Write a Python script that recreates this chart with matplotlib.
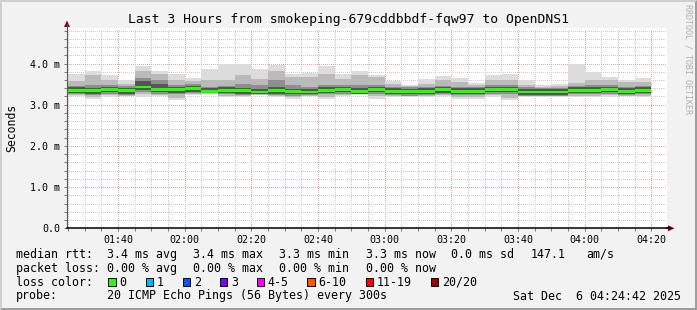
import matplotlib
matplotlib.use("Agg")
import matplotlib.pyplot as plt
from matplotlib.patches import Rectangle, Polygon
from matplotlib.lines import Line2D
from matplotlib.ticker import MultipleLocator, FixedLocator

# ---------------- data (5-minute steps, bar end time) ----------------
bar_end = ["01:30", "01:35", "01:40", "01:45", "01:50", "01:55",
           "02:00", "02:05", "02:10", "02:15", "02:20", "02:25",
           "02:30", "02:35", "02:40", "02:45", "02:50", "02:55",
           "03:00", "03:05", "03:10", "03:15", "03:20", "03:25",
           "03:30", "03:35", "03:40", "03:45", "03:50", "03:55",
           "04:00", "04:05", "04:10", "04:15", "04:20"]

# round-trip times in ms
rtt_max = [3.75, 3.82, 3.71, 3.59, 3.93, 3.81, 3.74, 3.66, 3.86, 4.00, 3.99, 3.86,
           3.96, 3.75, 3.77, 3.94, 3.74, 3.83, 3.72, 3.58, 3.47, 3.62, 3.69, 3.66,
           3.52, 3.71, 3.74, 3.59, 3.47, 3.50, 4.00, 3.80, 3.67, 3.61, 3.65]
rtt_p90 = [3.57, 3.71, 3.59, 3.51, 3.83, 3.75, 3.59, 3.57, 3.59, 3.59, 3.71, 3.63,
           3.83, 3.67, 3.67, 3.75, 3.63, 3.71, 3.67, 3.51, 3.45, 3.51, 3.59, 3.55,
           3.47, 3.59, 3.59, 3.47, 3.44, 3.45, 3.52, 3.59, 3.59, 3.55, 3.55]
rtt_p75 = [3.45, 3.49, 3.47, 3.45, 3.65, 3.59, 3.47, 3.50, 3.43, 3.46, 3.51, 3.47,
           3.59, 3.47, 3.43, 3.47, 3.48, 3.47, 3.47, 3.42, 3.42, 3.42, 3.46, 3.42,
           3.43, 3.48, 3.48, 3.42, 3.41, 3.41, 3.45, 3.47, 3.47, 3.43, 3.46]
rtt_p60 = [3.42, 3.41, 3.44, 3.41, 3.58, 3.50, 3.43, 3.46, 3.40, 3.42, 3.41, 3.38,
           3.42, 3.39, 3.38, 3.42, 3.44, 3.40, 3.44, 3.40, 3.39, 3.40, 3.43, 3.40,
           3.40, 3.44, 3.44, 3.38, 3.38, 3.38, 3.42, 3.42, 3.44, 3.40, 3.42]
rtt_median = [3.35, 3.34, 3.37, 3.34, 3.43, 3.37, 3.36, 3.39, 3.33, 3.35, 3.34, 3.31,
              3.34, 3.32, 3.31, 3.35, 3.37, 3.33, 3.37, 3.33, 3.32, 3.33, 3.36, 3.33,
              3.33, 3.37, 3.37, 3.31, 3.31, 3.31, 3.35, 3.35, 3.37, 3.33, 3.35]
rtt_p40 = [3.28, 3.27, 3.30, 3.27, 3.36, 3.30, 3.29, 3.32, 3.29, 3.28, 3.27, 3.25,
           3.27, 3.25, 3.25, 3.28, 3.30, 3.27, 3.30, 3.26, 3.25, 3.26, 3.29, 3.26,
           3.26, 3.30, 3.30, 3.24, 3.24, 3.24, 3.28, 3.28, 3.30, 3.26, 3.28]
rtt_p25 = [3.25, 3.24, 3.27, 3.24, 3.31, 3.27, 3.26, 3.29, 3.28, 3.25, 3.24, 3.25,
           3.24, 3.22, 3.23, 3.25, 3.27, 3.26, 3.27, 3.23, 3.22, 3.23, 3.26, 3.23,
           3.23, 3.27, 3.27, 3.22, 3.22, 3.22, 3.25, 3.25, 3.27, 3.23, 3.25]
rtt_p10 = [3.23, 3.19, 3.23, 3.22, 3.25, 3.23, 3.17, 3.26, 3.27, 3.22, 3.22, 3.24,
           3.22, 3.18, 3.22, 3.19, 3.23, 3.25, 3.20, 3.21, 3.21, 3.21, 3.23, 3.19,
           3.19, 3.23, 3.17, 3.21, 3.21, 3.21, 3.22, 3.22, 3.23, 3.22, 3.22]
rtt_min = [3.20, 3.15, 3.19, 3.20, 3.19, 3.20, 3.11, 3.23, 3.27, 3.19, 3.19, 3.23,
           3.19, 3.15, 3.21, 3.15, 3.20, 3.24, 3.15, 3.19, 3.19, 3.19, 3.21, 3.15,
           3.15, 3.19, 3.12, 3.19, 3.19, 3.19, 3.19, 3.19, 3.19, 3.20, 3.19]

x_tick_labels = ["01:40", "02:00", "02:20", "02:40", "03:00", "03:20", "03:40", "04:00", "04:20"]
y_tick_values = [0.0, 1.0, 2.0, 3.0, 4.0]
y_tick_labels = ["0.0", "1.0 m", "2.0 m", "3.0 m", "4.0 m"]

loss_labels = ["0", "1", "2", "3", "4-5", "6-10", "11-19", "20/20"]
loss_colors = ["#26ff00", "#00b8ff", "#0059ff", "#7e00ff", "#ff00ff", "#ff5500", "#ff0000", "#a10000"]

title = "Last 3 Hours from smokeping-679cddbbdf-fqw97 to OpenDNS1"
row_rtt = ["median rtt:", "3.4 ms avg", "3.4 ms max", "3.3 ms min", "3.3 ms now", "0.0 ms sd", "147.1", "am/s"]
row_loss = ["packet loss:", "0.00 % avg", "0.00 % max", "0.00 % min", "0.00 % now"]
probe_text = "20 ICMP Echo Pings (56 Bytes) every 300s"
date_text = "Sat Dec  6 04:24:42 2025"

# ---------------- layout ----------------
W, H = 697, 310
MONO = "DejaVu Sans Mono"


def fx(x):
    return x / W


def fy(y):
    return 1 - y / H


def tmin(s):
    h, m = s.split(":")
    return int(h) * 60 + int(m)


fig = plt.figure(figsize=(W / 100, H / 100), dpi=100, facecolor="#f2f2f2")

# frame shading
fig.patches.append(Polygon([(fx(0), fy(0)), (fx(W), fy(0)), (fx(W - 2), fy(2)), (fx(2), fy(2)),
                            (fx(2), fy(H - 2)), (fx(0), fy(H))], closed=True,
                           transform=fig.transFigure, facecolor="#cfcfcf", edgecolor="none"))
fig.patches.append(Polygon([(fx(W), fy(0)), (fx(W), fy(H)), (fx(0), fy(H)), (fx(2), fy(H - 2)),
                            (fx(W - 2), fy(H - 2)), (fx(W - 2), fy(2))], closed=True,
                           transform=fig.transFigure, facecolor="#9e9e9e", edgecolor="none"))

PL, PR, PT, PB = 67, 667, 27.7, 228.3
ax = fig.add_axes([fx(PL), fy(PB), (PR - PL) / W, (PB - PT) / H])
ax.set_facecolor("white")

x0 = tmin("01:24") + 42 / 60
ax.set_xlim(x0, x0 + 180)
ax.set_ylim(0, 4.87)

lefts = [tmin(t) - 5 for t in bar_end]
layers = [
    (rtt_min, rtt_max, "#dcdcdc"),
    (rtt_p10, rtt_p90, "#bababa"),
    (rtt_p25, rtt_p75, "#8e8e8e"),
    (rtt_p40, rtt_p60, "#555555"),
]
for lo, hi, col in layers:
    ax.bar(lefts, [h - l for l, h in zip(lo, hi)], bottom=lo, width=5, align="edge",
           color=col, linewidth=0, antialiased=False, zorder=3)
ax.bar(lefts, [0.07] * len(rtt_median), bottom=[m - 0.035 for m in rtt_median], width=5,
       align="edge", color=loss_colors[0], linewidth=0, antialiased=False, zorder=3.5)

# grid
ax.xaxis.set_major_locator(FixedLocator([tmin(t) for t in x_tick_labels]))
ax.xaxis.set_minor_locator(MultipleLocator(5))
ax.yaxis.set_major_locator(FixedLocator(y_tick_values))
ax.yaxis.set_minor_locator(MultipleLocator(0.2))
ax.set_xticklabels(x_tick_labels)
ax.set_yticklabels(y_tick_labels)
ax.set_axisbelow(True)
ax.grid(which="minor", color="#cccccc", linestyle=(0, (1, 2)), linewidth=0.72, antialiased=False)
ax.grid(which="major", color="#f0a0a0", linestyle=(0, (1, 2)), linewidth=0.72, antialiased=False)
ax.tick_params(which="both", direction="out", color="#666666", width=0.6)
ax.tick_params(which="major", length=2.5, pad=2.5, labelsize=7.2)
ax.tick_params(which="minor", length=2)
for lab in ax.get_xticklabels() + ax.get_yticklabels():
    lab.set_family(MONO)
    lab.set_fontsize(7.2)

for s in ("top", "right"):
    ax.spines[s].set_visible(False)
ax.spines["left"].set_color("#555555")
ax.spines["left"].set_linewidth(0.8)
ax.spines["bottom"].set_color("black")
ax.spines["bottom"].set_linewidth(1.1)
for s in ("left", "bottom"):
    ax.spines[s].set_zorder(5)

# axis extensions and arrows
fig.lines.append(Line2D([fx(PL), fx(PL)], [fy(PT), fy(24)], transform=fig.transFigure, color="#555555", lw=0.8))
fig.lines.append(Line2D([fx(PR), fx(670)], [fy(PB), fy(PB)], transform=fig.transFigure, color="black", lw=1.1))
fig.patches.append(Polygon([(fx(PL - 3), fy(27)), (fx(PL + 3), fy(27)), (fx(PL), fy(20.5))], closed=True,
                           transform=fig.transFigure, facecolor="#8b0000", edgecolor="none"))
fig.patches.append(Polygon([(fx(668), fy(PB - 3)), (fx(668), fy(PB + 3)), (fx(674.5), fy(PB))], closed=True,
                           transform=fig.transFigure, facecolor="#8b0000", edgecolor="none"))

# texts
fig.text(fx(348.5), fy(20), title, ha="center", va="center", fontsize=9.4, family=MONO)
fig.text(fx(12), fy(127.5), "Seconds", ha="center", va="center", rotation=90, fontsize=8.3, family=MONO)
fig.text(fx(688), fy(4), "RRDTOOL / TOBI OETIKER", ha="center", va="top", rotation=-90,
         fontsize=6.0, family=MONO, color="#b0b0b0")

LFS = 8.4
rtt_x = [16, 107, 193, 279, 365.7, 451, 530.7, 586]
for txt, xx in zip(row_rtt, rtt_x):
    fig.text(fx(xx), fy(254.3), txt, ha="left", va="center", fontsize=LFS, family=MONO)
for txt, xx in zip(row_loss, rtt_x):
    fig.text(fx(xx), fy(268.3), txt, ha="left", va="center", fontsize=LFS, family=MONO)

fig.text(fx(16), fy(282), "loss color:", ha="left", va="center", fontsize=LFS, family=MONO)
box_x = [108.3, 145.7, 182.7, 220, 256.7, 307.3, 365.7, 430.7]
for lab, col, bx in zip(loss_labels, loss_colors, box_x):
    fig.patches.append(Rectangle((fx(bx), fy(285.7)), 7.4 / W, 7.4 / H, transform=fig.transFigure,
                                 facecolor=col, edgecolor="black", linewidth=0.7))
    fig.text(fx(bx + 11), fy(282), lab, ha="left", va="center", fontsize=LFS, family=MONO)

fig.text(fx(16), fy(296), "probe:", ha="left", va="center", fontsize=LFS, family=MONO)
fig.text(fx(107), fy(296), probe_text, ha="left", va="center", fontsize=LFS, family=MONO)
fig.text(fx(513.3), fy(296), date_text, ha="left", va="center", fontsize=LFS, family=MONO)

fig.savefig("out.png", dpi=100, facecolor=fig.get_facecolor())
